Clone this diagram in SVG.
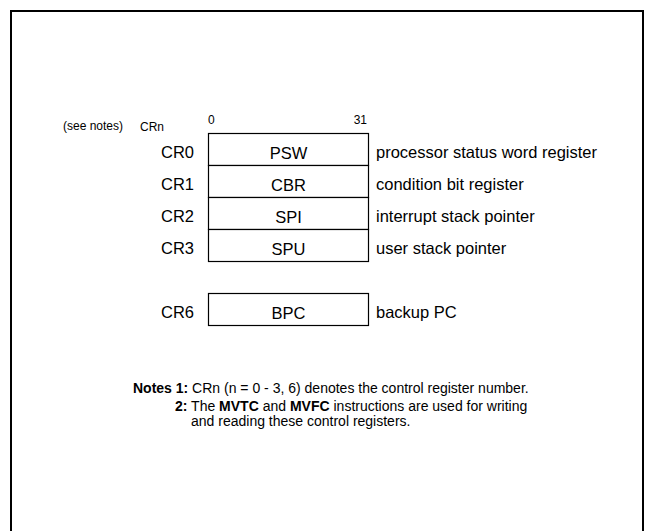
<svg xmlns="http://www.w3.org/2000/svg" width="647" height="531" viewBox="0 0 647 531">
<style>
text{font-family:"Liberation Sans",Arial,sans-serif;fill:#000}
.reg{fill:#fff;stroke:#000;stroke-width:1.2}
.lbl{font-size:16.5px}
.cr{font-size:16.5px;text-anchor:end}
.nm{font-size:16.5px;text-anchor:middle}
.sm{font-size:12px}
.nt{font-size:14px}
</style>
<rect width="647" height="531" fill="#fff"/>
<rect id="frame" x="11" y="11" width="632" height="540" fill="none" stroke="#000" stroke-width="2"/>
<g id="header">
<text class="sm" x="63" y="130">(see notes)</text>
<text class="sm" x="140" y="131">CRn</text>
<text class="sm" x="208" y="124">0</text>
<text class="sm" x="367" y="124" text-anchor="end">31</text>
</g>
<g id="cr0">
<rect class="reg" x="208.5" y="133.5" width="160" height="32"/>
<text class="cr" x="194" y="158">CR0</text>
<text class="nm" x="288.5" y="159">PSW</text>
<text class="lbl" x="376" y="158">processor status word register</text>
</g>
<g id="cr1">
<rect class="reg" x="208.5" y="165.5" width="160" height="32"/>
<text class="cr" x="194" y="190">CR1</text>
<text class="nm" x="288.5" y="191">CBR</text>
<text class="lbl" x="376" y="190">condition bit register</text>
</g>
<g id="cr2">
<rect class="reg" x="208.5" y="197.5" width="160" height="32"/>
<text class="cr" x="194" y="222">CR2</text>
<text class="nm" x="288.5" y="223">SPI</text>
<text class="lbl" x="376" y="222">interrupt stack pointer</text>
</g>
<g id="cr3">
<rect class="reg" x="208.5" y="229.5" width="160" height="32"/>
<text class="cr" x="194" y="254">CR3</text>
<text class="nm" x="288.5" y="255">SPU</text>
<text class="lbl" x="376" y="254">user stack pointer</text>
</g>
<g id="cr6">
<rect class="reg" x="208.5" y="293.5" width="160" height="32"/>
<text class="cr" x="194" y="318">CR6</text>
<text class="nm" x="288.5" y="319">BPC</text>
<text class="lbl" x="376" y="318">backup PC</text>
</g>
<g id="connectors"></g>
<g id="notes">
<text class="nt" x="133" y="393"><tspan font-weight="bold">Notes 1:</tspan> CRn (n = 0 - 3, 6) denotes the control register number.</text>
<text class="nt" x="175" y="411"><tspan font-weight="bold">2:</tspan> The <tspan font-weight="bold">MVTC</tspan> and <tspan font-weight="bold">MVFC</tspan> instructions are used for writing</text>
<text class="nt" x="191" y="426">and reading these control registers.</text>
</g>
</svg>
